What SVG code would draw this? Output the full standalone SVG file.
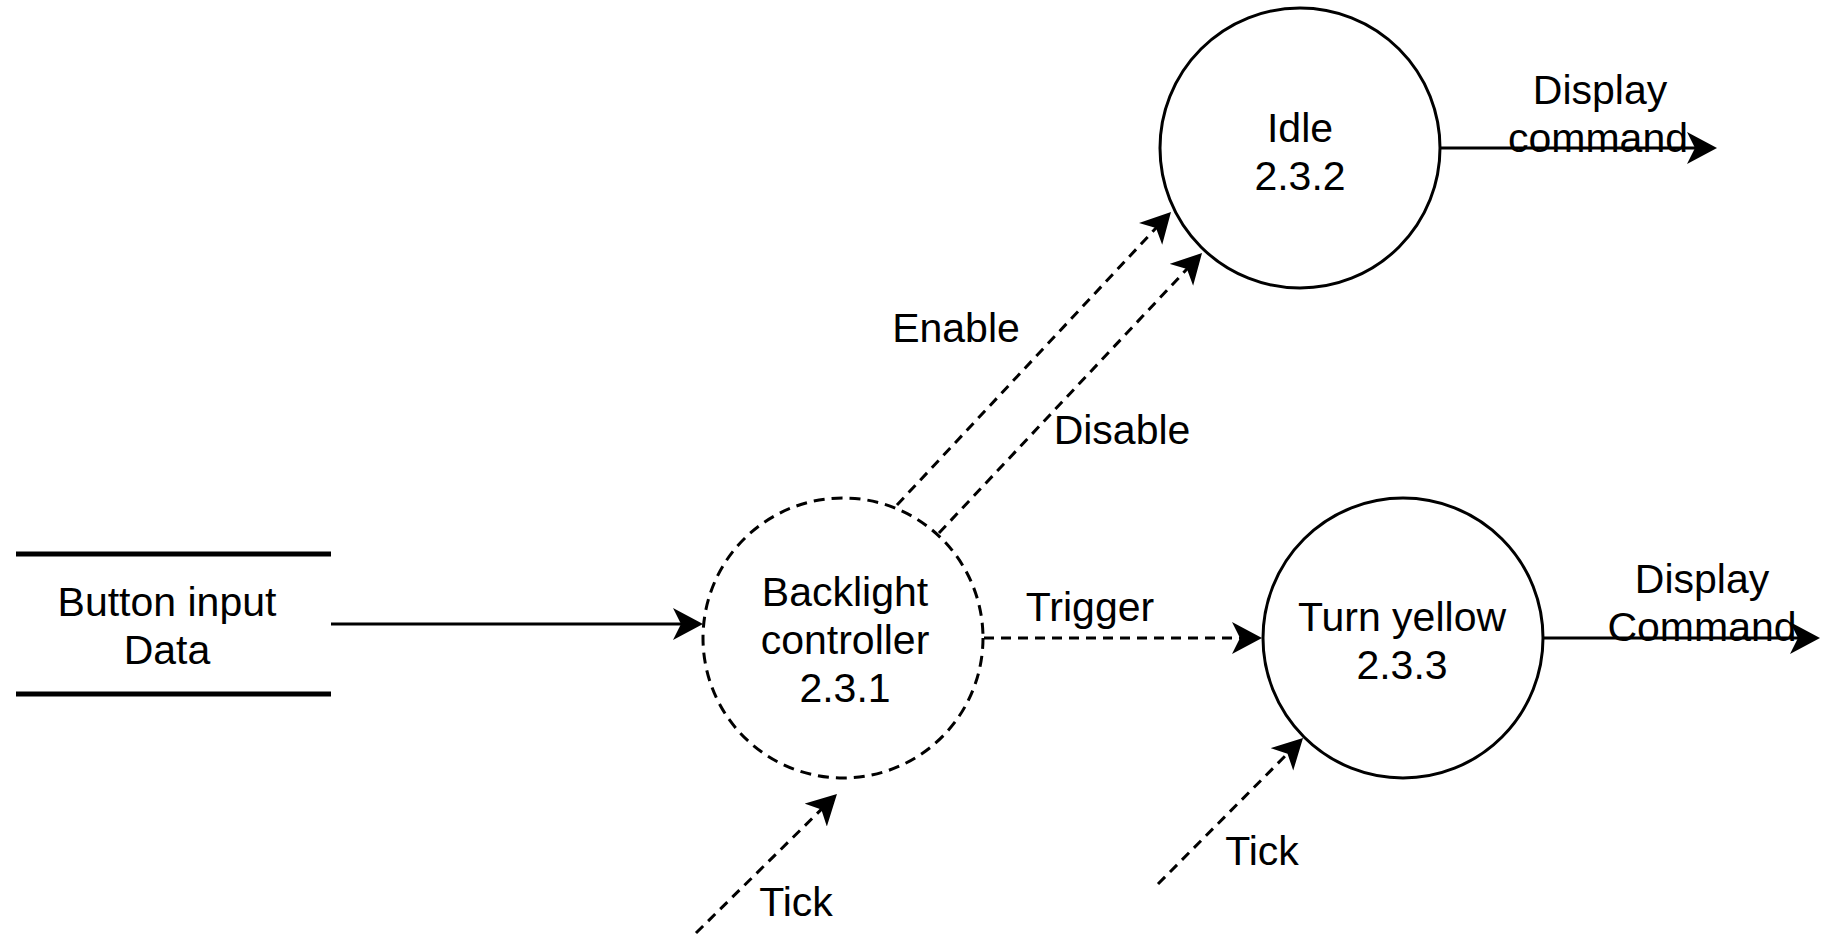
<svg xmlns="http://www.w3.org/2000/svg" width="1822" height="936" viewBox="0 0 1822 936">
  <defs>
    <style>
      .lbl { font-family: "Liberation Sans", Arial, sans-serif; font-size: 41px; fill: #000; text-anchor: middle; }
      .proc { fill: #fff; stroke: #000; stroke-width: 3; }
      .dproc { fill: #fff; stroke: #000; stroke-width: 3; stroke-dasharray: 11 7; }
      .store { stroke: #000; stroke-width: 5; }
      .solid { fill: none; stroke: #000; stroke-width: 3; marker-end: url(#arrow); }
      .dash { fill: none; stroke: #000; stroke-width: 3; stroke-dasharray: 10 7; marker-end: url(#arrow); }
    </style>
    <marker id="arrow" markerUnits="userSpaceOnUse" markerWidth="32" markerHeight="34" refX="24" refY="16" orient="auto">
      <path d="M30,16 L0,0 L8,16 L0,32 Z" fill="#000"/>
    </marker>
  </defs>
  <rect width="1822" height="936" fill="#fff"/>

  <g id="button-input-data">
    <line class="store" x1="16" y1="554" x2="331" y2="554"/>
    <line class="store" x1="16" y1="694" x2="331" y2="694"/>
    <text class="lbl" x="167" y="616">Button input</text>
    <text class="lbl" x="167" y="664">Data</text>
  </g>

  <g id="backlight-controller">
    <circle class="dproc" cx="843" cy="638" r="140"/>
    <text class="lbl" x="845" y="606">Backlight</text>
    <text class="lbl" x="845" y="654">controller</text>
    <text class="lbl" x="845" y="702">2.3.1</text>
  </g>

  <g id="idle">
    <circle class="proc" cx="1300" cy="148" r="140"/>
    <text class="lbl" x="1300" y="142">Idle</text>
    <text class="lbl" x="1300" y="190">2.3.2</text>
  </g>

  <g id="turn-yellow">
    <circle class="proc" cx="1403" cy="638" r="140"/>
    <text class="lbl" x="1402" y="631">Turn yellow</text>
    <text class="lbl" x="1402" y="679">2.3.3</text>
  </g>

  <g id="connectors">
    <line class="solid" x1="331" y1="624" x2="697" y2="624"/>
    <line class="dash" x1="984" y1="638" x2="1256" y2="638"/>
    <line class="dash" x1="897" y1="505" x2="1166.9" y2="216.4"/>
    <line class="dash" x1="939" y1="533" x2="1197.9" y2="257.4"/>
    <line class="dash" x1="696" y1="933" x2="832.7" y2="798.2"/>
    <line class="dash" x1="1158" y1="884" x2="1298.8" y2="742.3"/>
    <line class="solid" x1="1440" y1="148" x2="1711" y2="148"/>
    <line class="solid" x1="1543" y1="638" x2="1814" y2="638"/>

    <text class="lbl" x="1090" y="621">Trigger</text>
    <text class="lbl" x="956" y="342">Enable</text>
    <text class="lbl" x="1122" y="444">Disable</text>
    <text class="lbl" x="796" y="916">Tick</text>
    <text class="lbl" x="1262" y="865">Tick</text>
    <text class="lbl" x="1600" y="104">Display</text>
    <text class="lbl" x="1598" y="152">command</text>
    <text class="lbl" x="1702" y="593">Display</text>
    <text class="lbl" x="1702" y="641">Command</text>
  </g>
</svg>
